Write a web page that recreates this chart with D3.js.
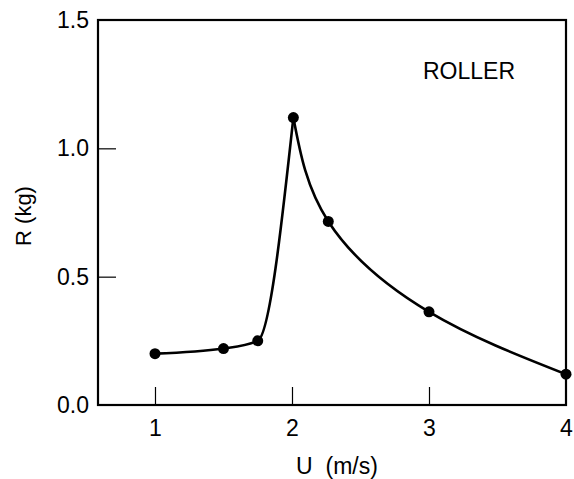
<!DOCTYPE html>
<html>
<head>
<meta charset="utf-8">
<script src="https://cdn.jsdelivr.net/npm/d3@7"></script>
<style>
  body { margin: 0; background: #fff; }
  text { font-family: "Liberation Sans", Arial, Helvetica, sans-serif; fill: #000; }
</style>
</head>
<body>
<script>
// speed (m/s) and resistance (kg)
const U = [1, 1.5, 1.75, 2.01, 2.265, 3, 4]
const R = [0.2, 0.22, 0.25, 1.12, 0.715, 0.363, 0.12]
const X_TICKS = [1, 2, 3, 4]
const Y_TICKS = [0, 0.5, 1.0, 1.5]
const LABEL = 'ROLLER'

const WIDTH = 574
const HEIGHT = 479
const M = { left: 98, right: 8, top: 20, bottom: 74 }

const svg = d3.select('body').append('svg')
  .attr('width', WIDTH)
  .attr('height', HEIGHT)

const x = d3.scaleLinear()
  .domain([0.584, 4])
  .range([M.left, WIDTH - M.right])

const y = d3.scaleLinear()
  .domain([0, 1.5])
  .range([HEIGHT - M.bottom, M.top])

const pts = U.map((u, i) => [u, R[i]])
// peak splits the curve in two (sharp cusp)
const peak = R.indexOf(d3.max(R))
const rising = pts.slice(0, peak + 1)
const falling = pts.slice(peak)

const lineUp = d3.line()
  .x(d => x(d[0]))
  .y(d => y(d[1]))
  .curve(d3.curveMonotoneX)
const lineDown = d3.line()
  .x(d => x(d[0]))
  .y(d => y(d[1]))
  .curve(d3.curveNatural)

// frame
svg.append('rect')
  .attr('x', x.range()[0])
  .attr('y', y.range()[1])
  .attr('width', x.range()[1] - x.range()[0])
  .attr('height', y.range()[0] - y.range()[1])
  .attr('fill', 'none')
  .attr('stroke', '#000')
  .attr('stroke-width', 2.2)

// x axis, ticks pointing inward
const xAxis = svg.append('g')
  .attr('transform', `translate(0,${y(0)})`)
  .call(d3.axisBottom(x).tickValues(X_TICKS).tickFormat(d3.format('d')).tickSize(-18).tickPadding(13))
xAxis.select('.domain').remove()
xAxis.selectAll('line').attr('stroke', '#000').attr('stroke-width', 1.2)
xAxis.selectAll('text').attr('font-size', 23).attr('dy', '0.8em').attr('fill', '#000')
xAxis.selectAll('.tick').filter(d => d === 4).select('line').remove()

// y axis
const yAxis = svg.append('g')
  .attr('transform', `translate(${x.range()[0]},0)`)
  .call(d3.axisLeft(y).tickValues(Y_TICKS).tickFormat(d3.format('.1f')).tickSize(-18).tickPadding(9))
yAxis.select('.domain').remove()
yAxis.selectAll('line').attr('stroke', '#000').attr('stroke-width', 1.2)
yAxis.selectAll('text').attr('font-size', 23).attr('fill', '#000')
yAxis.selectAll('.tick').filter(d => d === 0 || d === 1.5).select('line').remove()

// curves
svg.append('path').datum(rising)
  .attr('d', lineUp)
  .attr('fill', 'none')
  .attr('stroke', '#000')
  .attr('stroke-width', 2.6)
svg.append('path').datum(falling)
  .attr('d', lineDown)
  .attr('fill', 'none')
  .attr('stroke', '#000')
  .attr('stroke-width', 2.6)

// points
svg.selectAll('circle')
  .data(pts)
  .enter()
  .append('circle')
  .attr('cx', d => x(d[0]))
  .attr('cy', d => y(d[1]))
  .attr('r', 5.5)
  .attr('fill', '#000')

// labels
svg.append('text')
  .attr('x', 337)
  .attr('y', 474)
  .attr('text-anchor', 'middle')
  .attr('font-size', 23)
  .attr('xml:space', 'preserve')
  .text('U  (m/s)')

svg.append('text')
  .attr('transform', 'translate(31,216) rotate(-90)')
  .attr('text-anchor', 'middle')
  .attr('font-size', 22)
  .text('R (kg)')

svg.append('text')
  .attr('x', 469)
  .attr('y', 79)
  .attr('text-anchor', 'middle')
  .attr('font-size', 23)
  .text(LABEL)
</script>
</body>
</html>
